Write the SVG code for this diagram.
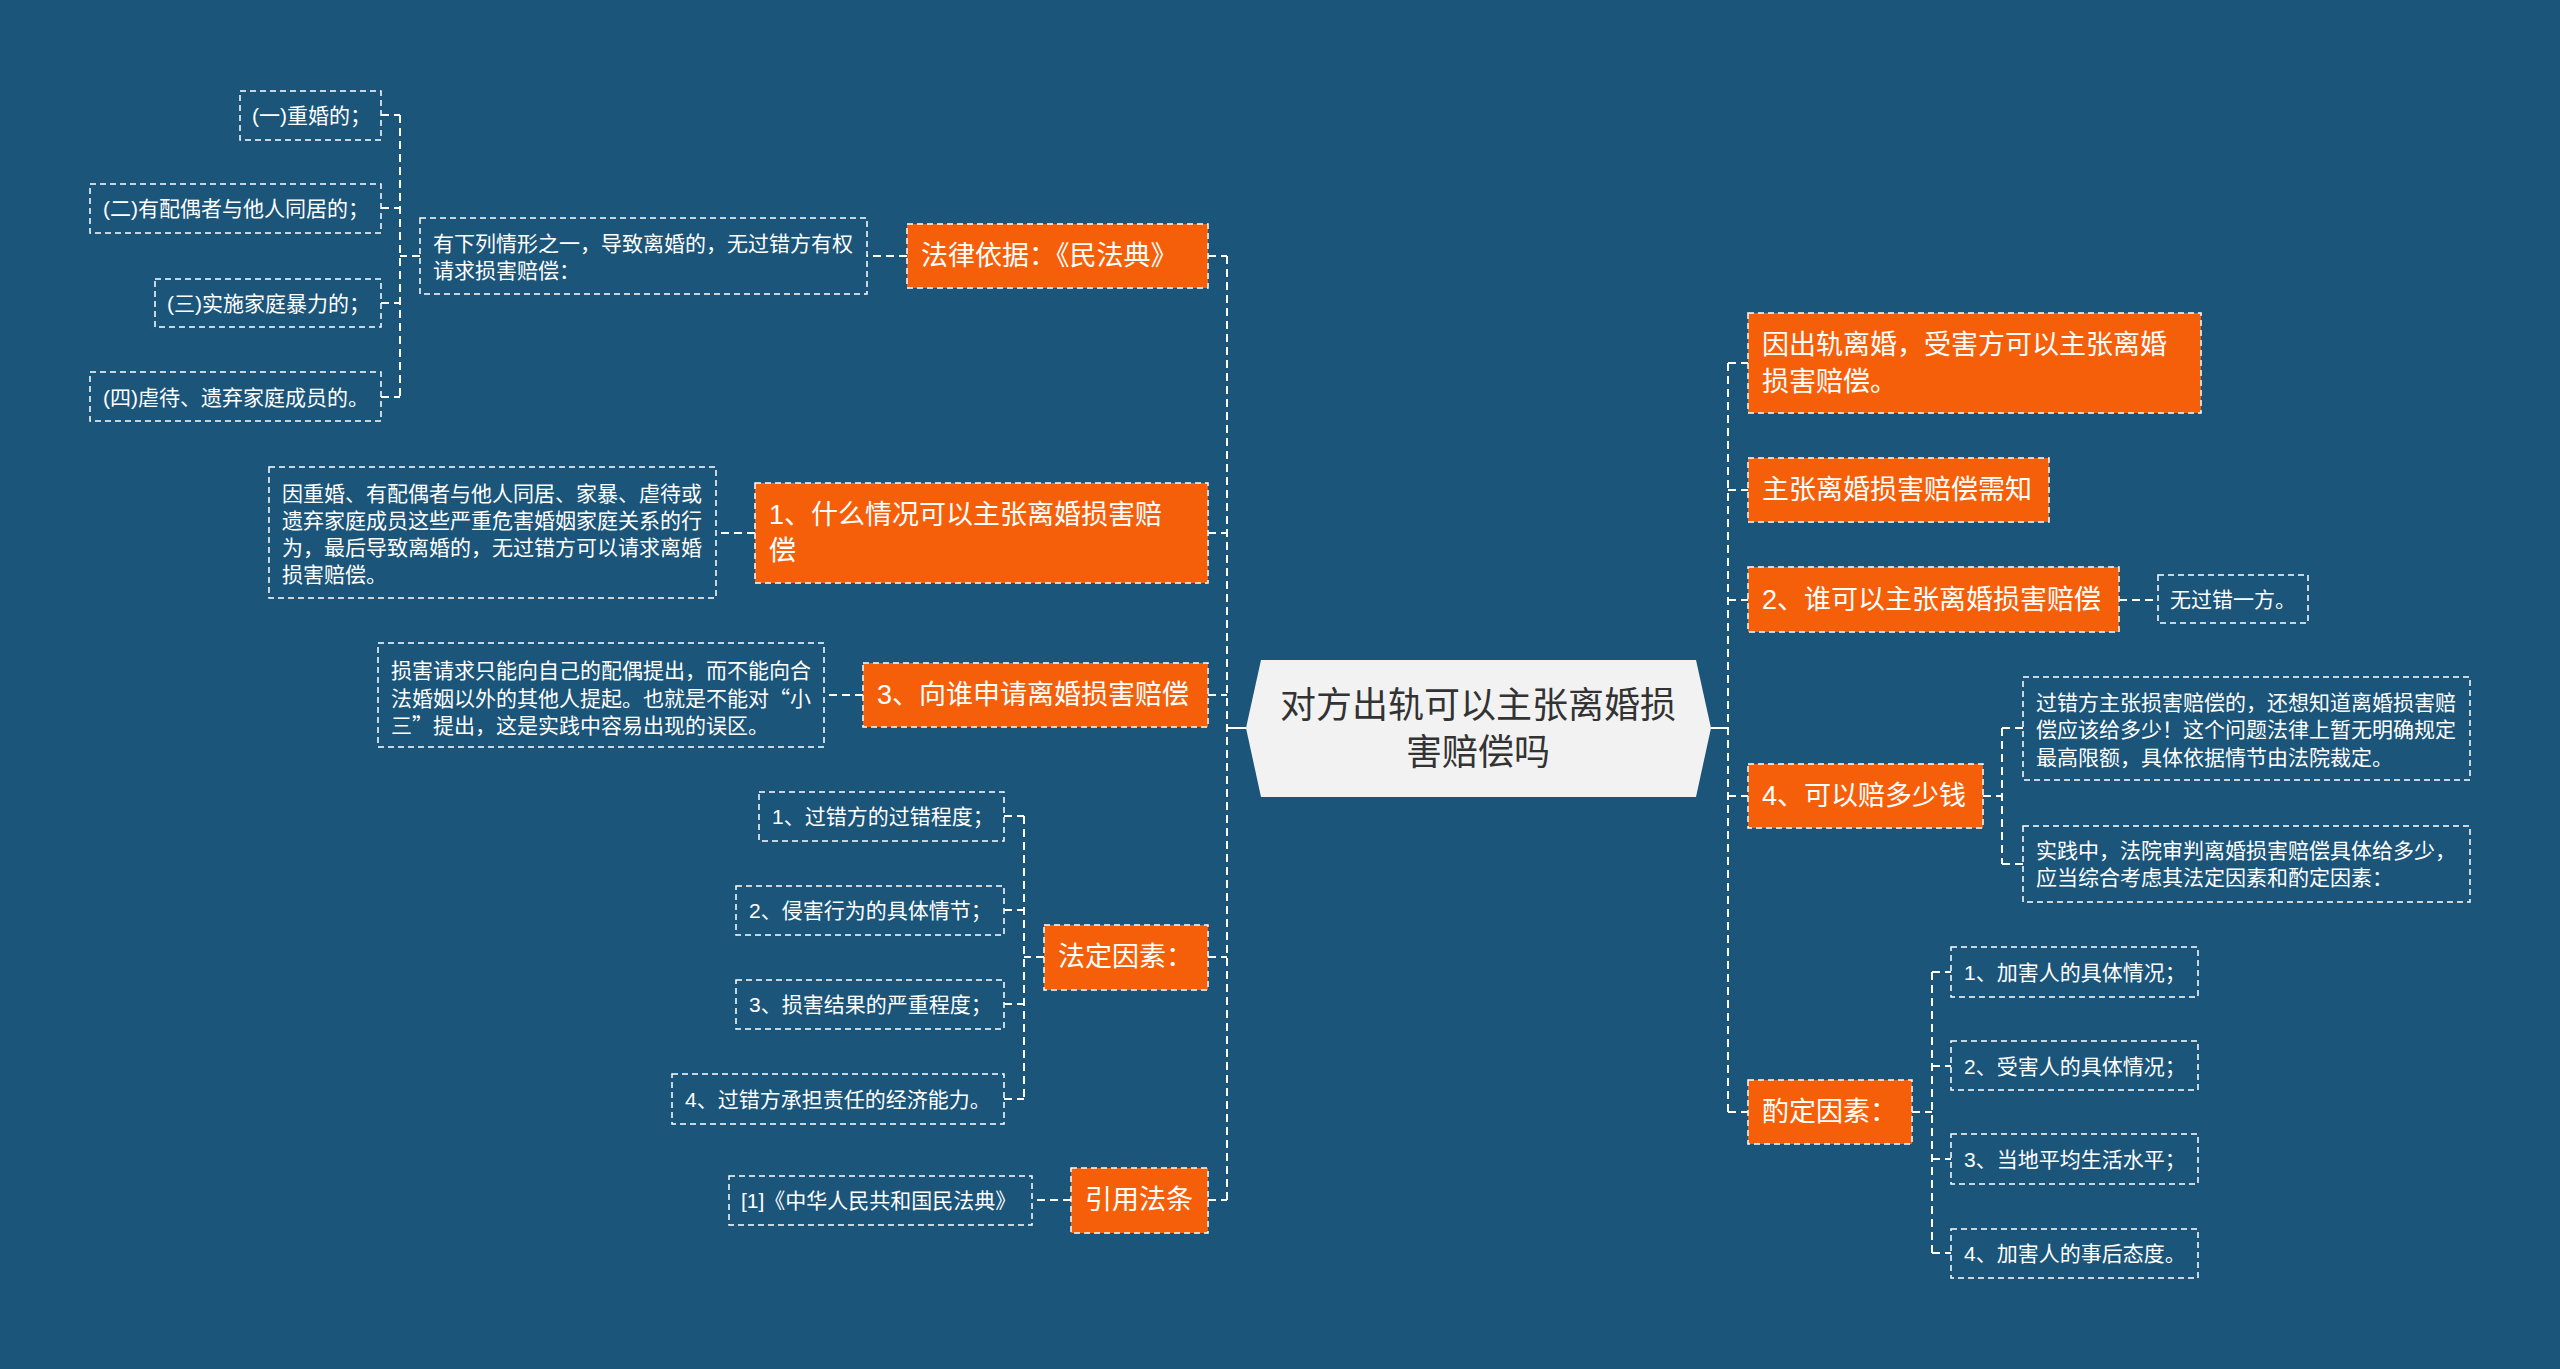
<svg xmlns="http://www.w3.org/2000/svg" width="2560" height="1369" viewBox="0 0 2560 1369">
<style>
text{font-family:"Liberation Sans","Noto Sans CJK SC",sans-serif;dominant-baseline:central}
.cjk{font-family:"Noto Sans CJK SC",sans-serif}
.bg{fill:#1b5579}
.o rect{fill:#f65f0a;stroke:#ffffff;stroke-width:1.5;stroke-dasharray:6 4}
.o text{fill:#ffffff;font-size:27px}
.s rect{fill:none;stroke:#ffffff;stroke-width:1.5;stroke-dasharray:6 4}
.s text{fill:#ffffff;font-size:21px}
.c polygon{fill:#f2f2f2}
.c text{fill:#333333;font-size:36px;text-anchor:middle}
#connectors path{fill:none;stroke:#ffffff;stroke-width:2;stroke-dasharray:8 5}
#connectors path.solid{stroke-dasharray:none}
</style>
<rect class="bg" x="0" y="0" width="2560" height="1369"/>

<g id="connectors">
  <path d="M1227 256 V1200"/>
  <path d="M1208 256 H1227"/>
  <path d="M1208 533 H1227"/>
  <path d="M1208 695 H1227"/>
  <path d="M1208 957 H1227"/>
  <path d="M1208 1200 H1227"/>
  <path class="solid" d="M1227 728 H1246"/>
  <path d="M1728 363 V1112"/>
  <path d="M1728 363 H1748"/>
  <path d="M1728 490 H1748"/>
  <path d="M1728 600 H1748"/>
  <path d="M1728 796 H1748"/>
  <path d="M1728 1112 H1748"/>
  <path class="solid" d="M1711 728 H1728"/>
  <path d="M907 256 H867"/>
  <path d="M420 256 H400"/>
  <path d="M400 115 V397"/>
  <path d="M381 115 H400"/>
  <path d="M381 208 H400"/>
  <path d="M381 303 H400"/>
  <path d="M381 397 H400"/>
  <path d="M755 533 H716"/>
  <path d="M863 695 H824"/>
  <path d="M1044 957 H1024"/>
  <path d="M1024 816 V1099"/>
  <path d="M1004 816 H1024"/>
  <path d="M1004 910 H1024"/>
  <path d="M1004 1004 H1024"/>
  <path d="M1004 1099 H1024"/>
  <path d="M1071 1200 H1032"/>
  <path d="M2119 600 H2158"/>
  <path d="M1983 796 H2002"/>
  <path d="M2002 728 V864"/>
  <path d="M2002 728 H2023"/>
  <path d="M2002 864 H2023"/>
  <path d="M1912 1112 H1932"/>
  <path d="M1932 972 V1253"/>
  <path d="M1932 972 H1951"/>
  <path d="M1932 1066 H1951"/>
  <path d="M1932 1159 H1951"/>
  <path d="M1932 1253 H1951"/>
</g>

<g id="center" class="c">
  <polygon points="1261,660 1696,660 1711,728 1696,797 1261,797 1246,728"/>
  <text x="1478" y="705">对方出轨可以主张离婚损</text>
  <text x="1478" y="752">害赔偿吗</text>
</g>

<g id="n-falv" class="o">
  <rect x="907" y="224" width="301" height="64"/>
  <text x="921" y="256">法律依据：《民法典》</text>
</g>
<g id="n-youxialie" class="s">
  <rect x="420" y="218" width="447" height="76"/>
  <text x="433" y="243">有下列情形之一，导致离婚的，无过错方有权</text>
  <text x="433" y="270">请求损害赔偿：</text>
</g>
<g id="n-yi" class="s">
  <rect x="240" y="91" width="141" height="49"/>
  <text x="252" y="115">(一)重婚的；</text>
</g>
<g id="n-er" class="s">
  <rect x="90" y="184" width="291" height="49"/>
  <text x="103" y="208">(二)有配偶者与他人同居的；</text>
</g>
<g id="n-san" class="s">
  <rect x="155" y="279" width="226" height="48"/>
  <text x="167" y="303">(三)实施家庭暴力的；</text>
</g>
<g id="n-si" class="s">
  <rect x="90" y="372" width="291" height="49"/>
  <text x="103" y="397">(四)虐待、遗弃家庭成员的。</text>
</g>

<g id="n-q1" class="o">
  <rect x="755" y="483" width="453" height="100"/>
  <text x="769" y="515">1、什么情况可以主张离婚损害赔</text>
  <text x="769" y="551">偿</text>
</g>
<g id="n-q1a" class="s">
  <rect x="269" y="467" width="447" height="131"/>
  <text x="282" y="493">因重婚、有配偶者与他人同居、家暴、虐待或</text>
  <text x="282" y="520">遗弃家庭成员这些严重危害婚姻家庭关系的行</text>
  <text x="282" y="547">为，最后导致离婚的，无过错方可以请求离婚</text>
  <text x="282" y="574">损害赔偿。</text>
</g>

<g id="n-q3" class="o">
  <rect x="863" y="663" width="345" height="64"/>
  <text x="877" y="695">3、向谁申请离婚损害赔偿</text>
</g>
<g id="n-q3a" class="s">
  <rect x="378" y="643" width="446" height="104"/>
  <text x="391" y="670">损害请求只能向自己的配偶提出，而不能向合</text>
  <text x="391" y="697" class="cjk">法婚姻以外的其他人提起。也就是不能对“小</text>
  <text x="391" y="724" class="cjk">三”提出，这是实践中容易出现的误区。</text>
</g>

<g id="n-fading" class="o">
  <rect x="1044" y="925" width="164" height="65"/>
  <text x="1058" y="957">法定因素：</text>
</g>
<g id="n-fd1" class="s">
  <rect x="759" y="792" width="245" height="49"/>
  <text x="772" y="816">1、过错方的过错程度；</text>
</g>
<g id="n-fd2" class="s">
  <rect x="736" y="886" width="268" height="49"/>
  <text x="749" y="910">2、侵害行为的具体情节；</text>
</g>
<g id="n-fd3" class="s">
  <rect x="736" y="980" width="268" height="49"/>
  <text x="749" y="1004">3、损害结果的严重程度；</text>
</g>
<g id="n-fd4" class="s">
  <rect x="672" y="1074" width="332" height="50"/>
  <text x="685" y="1099">4、过错方承担责任的经济能力。</text>
</g>

<g id="n-yinyong" class="o">
  <rect x="1071" y="1168" width="137" height="65"/>
  <text x="1085" y="1200">引用法条</text>
</g>
<g id="n-yy1" class="s">
  <rect x="729" y="1176" width="303" height="49"/>
  <text x="741" y="1200">[1]《中华人民共和国民法典》</text>
</g>

<g id="n-r1" class="o">
  <rect x="1748" y="313" width="453" height="100"/>
  <text x="1762" y="345">因出轨离婚，受害方可以主张离婚</text>
  <text x="1762" y="382">损害赔偿。</text>
</g>
<g id="n-r2" class="o">
  <rect x="1748" y="458" width="301" height="64"/>
  <text x="1762" y="490">主张离婚损害赔偿需知</text>
</g>
<g id="n-r3" class="o">
  <rect x="1748" y="567" width="371" height="65"/>
  <text x="1762" y="600">2、谁可以主张离婚损害赔偿</text>
</g>
<g id="n-r3a" class="s">
  <rect x="2158" y="575" width="150" height="48"/>
  <text x="2170" y="599">无过错一方。</text>
</g>
<g id="n-r4" class="o">
  <rect x="1748" y="764" width="235" height="64"/>
  <text x="1762" y="796">4、可以赔多少钱</text>
</g>
<g id="n-r4a" class="s">
  <rect x="2023" y="677" width="447" height="103"/>
  <text x="2036" y="702">过错方主张损害赔偿的，还想知道离婚损害赔</text>
  <text x="2036" y="729">偿应该给多少！这个问题法律上暂无明确规定</text>
  <text x="2036" y="757">最高限额，具体依据情节由法院裁定。</text>
</g>
<g id="n-r4b" class="s">
  <rect x="2023" y="826" width="447" height="76"/>
  <text x="2036" y="850">实践中，法院审判离婚损害赔偿具体给多少，</text>
  <text x="2036" y="877">应当综合考虑其法定因素和酌定因素：</text>
</g>
<g id="n-r5" class="o">
  <rect x="1748" y="1080" width="164" height="64"/>
  <text x="1762" y="1112">酌定因素：</text>
</g>
<g id="n-r5a" class="s">
  <rect x="1951" y="947" width="247" height="50"/>
  <text x="1964" y="972">1、加害人的具体情况；</text>
</g>
<g id="n-r5b" class="s">
  <rect x="1951" y="1041" width="247" height="49"/>
  <text x="1964" y="1066">2、受害人的具体情况；</text>
</g>
<g id="n-r5c" class="s">
  <rect x="1951" y="1134" width="247" height="50"/>
  <text x="1964" y="1159">3、当地平均生活水平；</text>
</g>
<g id="n-r5d" class="s">
  <rect x="1951" y="1229" width="247" height="49"/>
  <text x="1964" y="1253">4、加害人的事后态度。</text>
</g>
</svg>
